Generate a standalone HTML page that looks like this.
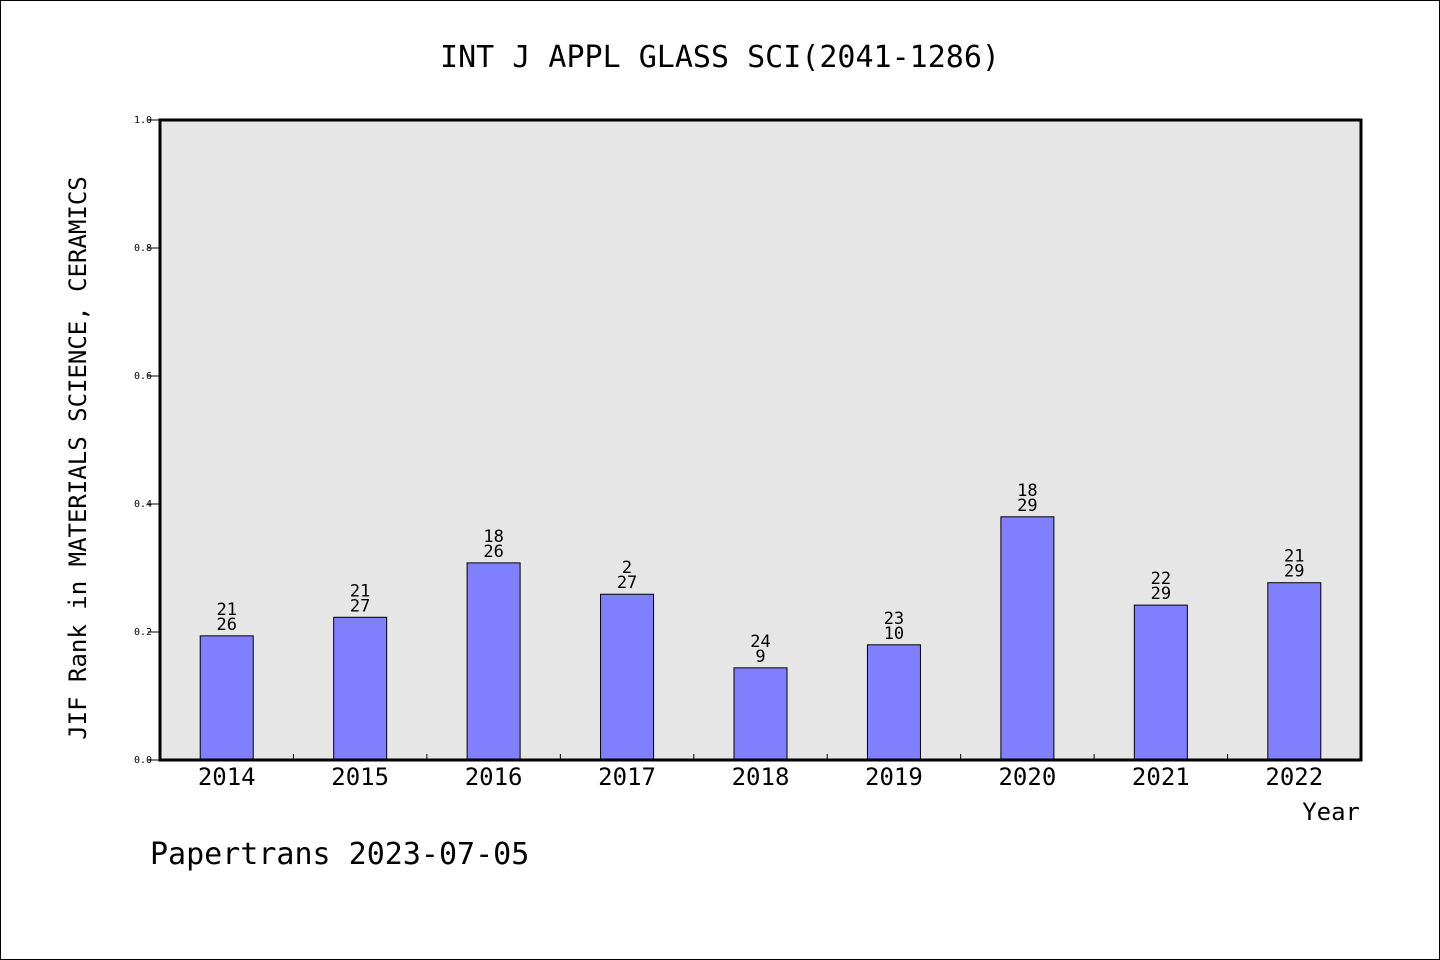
<!DOCTYPE html>
<html><head><meta charset="utf-8"><style>
html,body{margin:0;padding:0;background:#fff}
svg{display:block}
text{font-family:"WenQuanYi Zen Hei","DejaVu Sans Mono","Liberation Mono",monospace;fill:#000}
</style></head><body>
<svg id="chart" width="1440" height="960" viewBox="0 0 1440 960">
<rect x="0.5" y="0.5" width="1439" height="959" fill="#fff" stroke="#000"/>
<text x="720" y="67" font-size="30" text-anchor="middle">INT J APPL GLASS SCI(2041-1286)</text>
<rect x="160" y="120" width="1201" height="640" fill="#e6e6e6"/>
<g id="ticks"></g>
<g id="bars"></g>
<rect x="160" y="120" width="1201" height="640" fill="none" stroke="#000" stroke-width="3"/>
<text transform="translate(86,458) rotate(-90)" font-size="24" text-anchor="middle">JIF Rank in MATERIALS SCIENCE, CERAMICS</text>
<text x="1360" y="820" font-size="24" text-anchor="end">Year</text>
<text x="150" y="864" font-size="30">Papertrans 2023-07-05</text>
</svg>
<script>
const years = ["2014","2015","2016","2017","2018","2019","2020","2021","2022"];
const values = [0.194,0.223,0.308,0.259,0.144,0.180,0.380,0.242,0.277];
const rankLabels = ["21","21","18","2","24","23","18","22","21"];
const totalLabels = ["26","27","26","27","9","10","29","29","29"];
const yTicks = [0,0.2,0.4,0.6,0.8,1.0];
const yTickLabels = ["0.0","0.2","0.4","0.6","0.8","1.0"];

const NS="http://www.w3.org/2000/svg";
const X0=160, W=1201, Y0=760, H=640;
const band=W/years.length, bw=53;
const xc=i=>X0+band*(i+0.5);
const y=v=>Y0-v*H;
function mk(tag,attrs,parent){const e=document.createElementNS(NS,tag);for(const k in attrs)e.setAttribute(k,attrs[k]);parent.appendChild(e);return e;}
const tg=document.getElementById('ticks'), bg=document.getElementById('bars');
yTicks.forEach((t,i)=>{
  const l=mk('line',{x1:148,x2:160,y1:y(t),y2:y(t),stroke:'#000','stroke-width':1},tg);
  
  
  const tx=mk('text',{x:152,y:y(t)+3,'font-size':10,'text-anchor':'end'},tg);
  tx.textContent=yTickLabels[i];
  
  
});
for(let i=1;i<years.length;i++){
  const l=mk('line',{x1:X0+band*i,x2:X0+band*i,y1:Y0,y2:Y0-6,stroke:'#000','stroke-width':1},tg);
  
  
}
years.forEach((yr,i)=>{
  const r=mk('rect',{x:xc(i)-bw/2,y:y(values[i]),width:bw,height:Y0-y(values[i]),fill:'#8080ff',stroke:'#000','stroke-width':1},bg);
  
  
  const t1=mk('text',{x:xc(i),y:y(values[i])-21,'font-size':17,'text-anchor':'middle'},bg);
  t1.textContent=rankLabels[i];
  
  
  const t2=mk('text',{x:xc(i),y:y(values[i])-6,'font-size':17,'text-anchor':'middle'},bg);
  t2.textContent=totalLabels[i];
  
  
  const xl=mk('text',{x:xc(i),y:785,'font-size':24,'text-anchor':'middle'},bg);
  xl.textContent=yr;
  
  
});
</script>
</body></html>
